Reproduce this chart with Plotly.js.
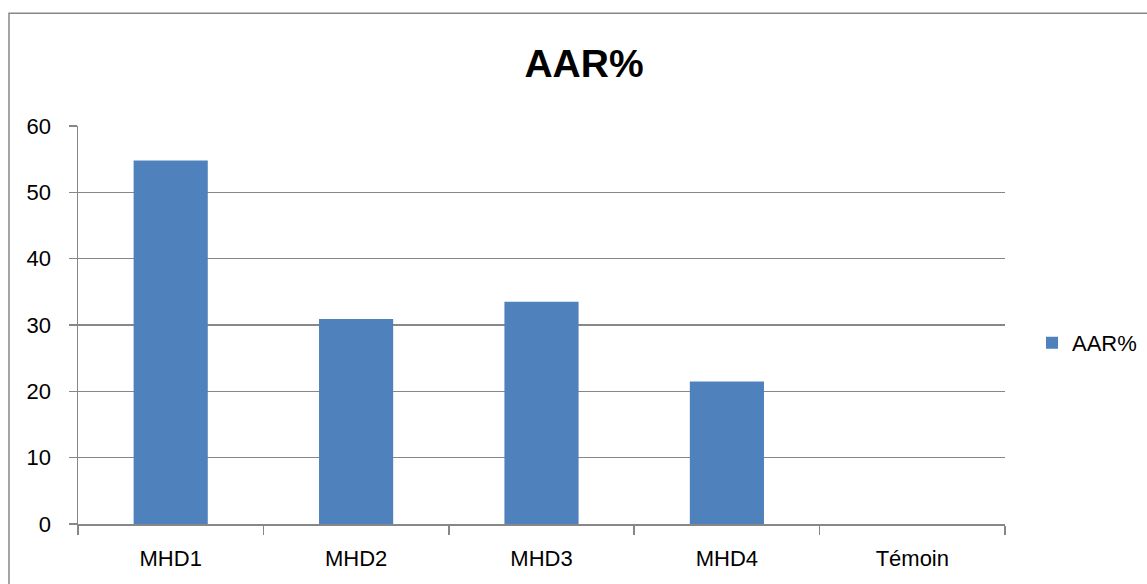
<!DOCTYPE html>
<html>
<head>
<meta charset="utf-8">
<script src="https://cdn.plot.ly/plotly-3.0.1.min.js"></script>
<style>html,body{margin:0;padding:0;background:#fff;}#chart{width:1147px;height:584px;}</style>
</head>
<body>
<div id="chart"></div>
<script>
var categories = ["MHD1", "MHD2", "MHD3", "MHD4", "Témoin"];
var values = [54.8, 30.9, 33.5, 21.5, 0];
var seriesName = "AAR%";
var yTicks = [0, 10, 20, 30, 40, 50, 60];

var W = 1147, H = 584;
var L = 78, R = 142, T = 125.5, B = 59.5;
var pw = W - L - R, ph = H - T - B;
function px(x) { return (x - L) / pw; }
function py(y) { return (H - B - y) / ph; }

var font = "Liberation Sans, Arial, sans-serif";
var grey = "#878787";

var data = [{
  type: "bar",
  x: categories,
  y: values,
  name: seriesName,
  marker: { color: "#4f81bd", line: { width: 0 } },
  hoverinfo: "x+y"
}];

var layout = {
  width: W, height: H,
  margin: { l: L, r: R, t: T, b: B, pad: 0, autoexpand: false },
  paper_bgcolor: "#ffffff",
  plot_bgcolor: "#ffffff",
  font: { family: font, size: 22, color: "#000" },
  title: {
    text: "<b>AAR%</b>",
    font: { family: font, size: 39, color: "#000" },
    x: px(584), xref: "paper", xanchor: "center",
    y: 1 - 63 / H, yref: "container", yanchor: "middle"
  },
  bargap: 0.6,
  showlegend: true,
  legend: {
    x: px(1032), y: py(343), xanchor: "left", yanchor: "middle",
    font: { family: font, size: 22, color: "#000" },
    bgcolor: "rgba(0,0,0,0)"
  },
  xaxis: {
    type: "category",
    showgrid: false,
    showline: true, linecolor: grey, linewidth: 1.5,
    ticks: "outside", tickson: "boundaries", ticklen: 9, tickcolor: grey, tickwidth: 1.5,
    ticklabelstandoff: 14,
    tickfont: { family: font, size: 22, color: "#000" },
    zeroline: false, fixedrange: true
  },
  yaxis: {
    range: [0, 60],
    tickvals: yTicks,
    ticktext: yTicks.map(String),
    showgrid: true, gridcolor: grey, gridwidth: 1.5,
    showline: true, linecolor: grey, linewidth: 1.5,
    ticks: "outside", ticklen: 8, tickcolor: grey, tickwidth: 1.5,
    ticklabelstandoff: 13,
    tickfont: { family: font, size: 22, color: "#000" },
    zeroline: false, fixedrange: true
  },
  shapes: [{
    type: "rect", xref: "paper", yref: "paper",
    x0: px(9), x1: px(1170), y0: py(620), y1: py(12.5),
    line: { color: grey, width: 1.5 }, fillcolor: "rgba(0,0,0,0)", layer: "below"
  }]
};

Plotly.newPlot("chart", data, layout, { displayModeBar: false, staticPlot: true });
</script>
</body>
</html>
